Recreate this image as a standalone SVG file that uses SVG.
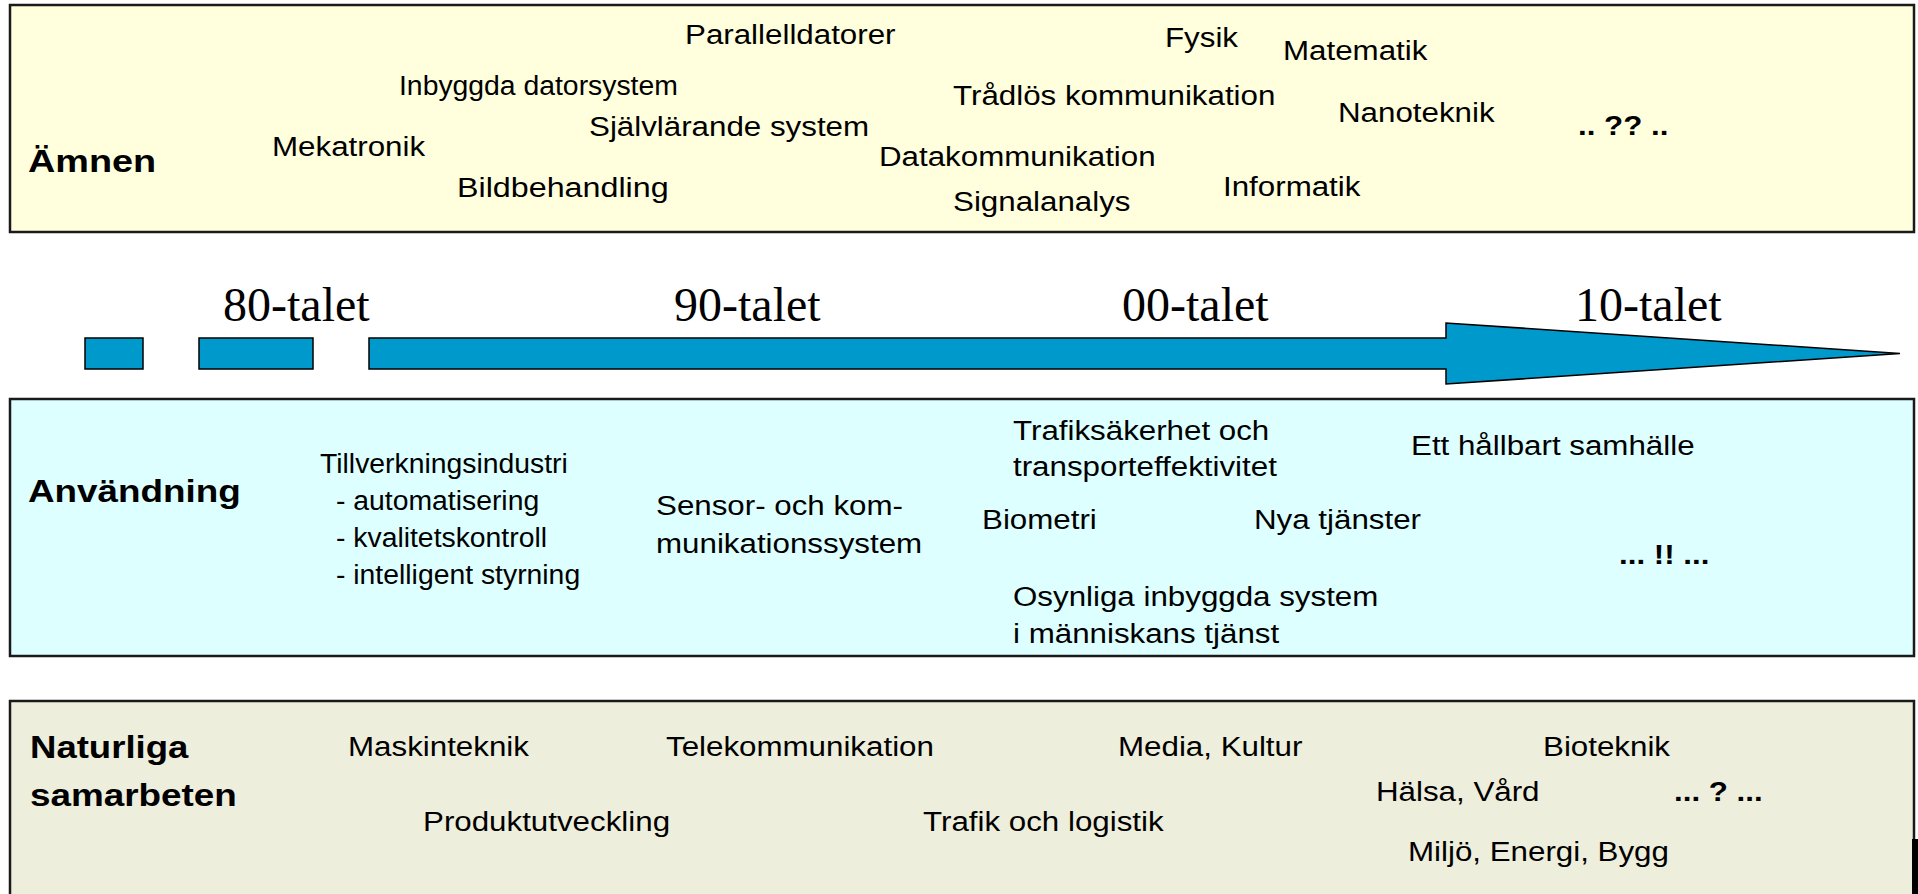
<svg xmlns="http://www.w3.org/2000/svg" width="1918" height="894" viewBox="0 0 1918 894">
<style>
.box{stroke:#1a1a1a;stroke-width:2.5}
.amnen{fill:#FFFFDD}
.anv{fill:#DDFFFF}
.nat{fill:#EEEEDC}
.t{font-family:"Liberation Sans",Arial,sans-serif;font-size:27px;fill:#000}
.b{font-family:"Liberation Sans",Arial,sans-serif;font-size:31.5px;font-weight:bold;fill:#000}
.tb{font-family:"Liberation Sans",Arial,sans-serif;font-size:27px;font-weight:bold;fill:#000}
.dec{font-family:"Liberation Serif","Times New Roman",serif;font-size:48px;fill:#000}
.bar{fill:#0099CC;stroke:#000;stroke-width:1.5}
</style>
<rect width="1918" height="894" fill="#FFFFFF"/>

<g id="amnen">
<rect class="box amnen" x="10" y="5" width="1904" height="227"/>
<text class="b" transform="translate(28 172) scale(1.2 1)">Ämnen</text>
<text class="t" transform="translate(685 44) scale(1.16 1)">Parallelldatorer</text>
<text class="t" transform="translate(1165 47) scale(1.16 1)">Fysik</text>
<text class="t" transform="translate(1283 60) scale(1.16 1)">Matematik</text>
<text class="t" transform="translate(399 95) scale(1.05 1)">Inbyggda datorsystem</text>
<text class="t" transform="translate(953 105) scale(1.16 1)">Trådlös kommunikation</text>
<text class="t" transform="translate(1338 122) scale(1.16 1)">Nanoteknik</text>
<text class="t" transform="translate(589 136) scale(1.16 1)">Självlärande system</text>
<text class="tb" transform="translate(1578 135) scale(1.16 1)">.. ?? ..</text>
<text class="t" transform="translate(272 156) scale(1.16 1)">Mekatronik</text>
<text class="t" transform="translate(879 166) scale(1.16 1)">Datakommunikation</text>
<text class="t" transform="translate(457 197) scale(1.195 1)">Bildbehandling</text>
<text class="t" transform="translate(1223 196) scale(1.16 1)">Informatik</text>
<text class="t" transform="translate(953 211) scale(1.16 1)">Signalanalys</text>
</g>

<g id="timeline">
<rect class="bar" x="85" y="338" width="58" height="31"/>
<rect class="bar" x="199" y="338" width="114" height="31"/>
<path class="bar" d="M369 338 H1446 V323 L1900 353.5 L1446 384 V369 H369 Z"/>
<text class="dec" x="223" y="321">80-talet</text>
<text class="dec" x="674" y="321">90-talet</text>
<text class="dec" x="1122" y="321">00-talet</text>
<text class="dec" x="1575" y="321">10-talet</text>
</g>

<g id="anvandning">
<rect class="box anv" x="10" y="399" width="1904" height="257"/>
<text class="b" transform="translate(28 502) scale(1.17 1)">Användning</text>
<text class="t" transform="translate(320 473) scale(1.05 1)">Tillverkningsindustri</text>
<text class="t" transform="translate(336 510) scale(1.05 1)">- automatisering</text>
<text class="t" transform="translate(336 547) scale(1.05 1)">- kvalitetskontroll</text>
<text class="t" transform="translate(336 584) scale(1.05 1)">- intelligent styrning</text>
<text class="t" transform="translate(656 515) scale(1.16 1)">Sensor- och kom-</text>
<text class="t" transform="translate(656 553) scale(1.16 1)">munikationssystem</text>
<text class="t" transform="translate(1013 440) scale(1.16 1)">Trafiksäkerhet och</text>
<text class="t" transform="translate(1013 476) scale(1.16 1)">transporteffektivitet</text>
<text class="t" transform="translate(1411 455) scale(1.16 1)">Ett hållbart samhälle</text>
<text class="t" transform="translate(982 529) scale(1.16 1)">Biometri</text>
<text class="t" transform="translate(1254 529) scale(1.16 1)">Nya tjänster</text>
<text class="tb" transform="translate(1619 564) scale(1.16 1)">... !! ...</text>
<text class="t" transform="translate(1013 606) scale(1.16 1)">Osynliga inbyggda system</text>
<text class="t" transform="translate(1013 643) scale(1.16 1)">i människans tjänst</text>
</g>

<g id="samarbeten">
<rect class="box nat" x="10" y="701" width="1904" height="200"/>
<rect x="1912" y="839" width="6" height="55" fill="#000"/>
<text class="b" transform="translate(30 758) scale(1.16 1)">Naturliga</text>
<text class="b" transform="translate(30 806) scale(1.17 1)">samarbeten</text>
<text class="t" transform="translate(348 756) scale(1.16 1)">Maskinteknik</text>
<text class="t" transform="translate(666 756) scale(1.16 1)">Telekommunikation</text>
<text class="t" transform="translate(1118 756) scale(1.16 1)">Media, Kultur</text>
<text class="t" transform="translate(1543 756) scale(1.16 1)">Bioteknik</text>
<text class="t" transform="translate(1376 801) scale(1.16 1)">Hälsa, Vård</text>
<text class="tb" transform="translate(1674 801) scale(1.16 1)">... ? ...</text>
<text class="t" transform="translate(423 831) scale(1.16 1)">Produktutveckling</text>
<text class="t" transform="translate(923 831) scale(1.16 1)">Trafik och logistik</text>
<text class="t" transform="translate(1408 861) scale(1.16 1)">Miljö, Energi, Bygg</text>
</g>

<g id="connectors"/>
</svg>
